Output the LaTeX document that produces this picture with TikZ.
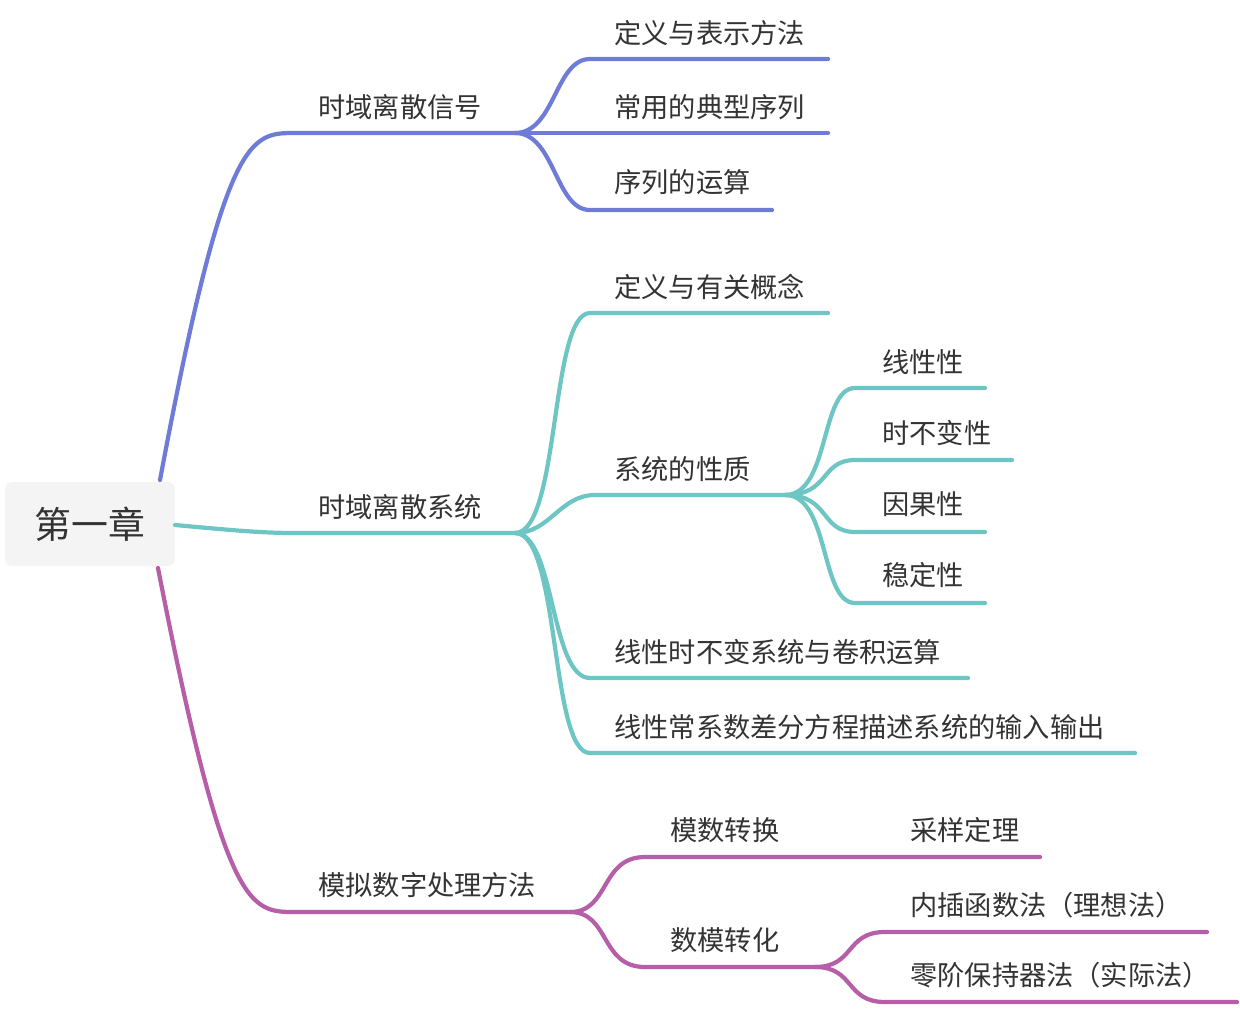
\documentclass[tikz,border=0pt]{standalone}
\usepackage{fontspec}
\setmainfont{Noto Sans CJK SC}
\usetikzlibrary{positioning}
\definecolor{bluebr}{HTML}{6E7CD8}
\definecolor{tealbr}{HTML}{6EC6C4}
\definecolor{purpbr}{HTML}{B65FA8}
\definecolor{txt}{HTML}{333333}
\definecolor{rootbg}{HTML}{F4F4F4}
\tikzset{
  lbl/.style={anchor=west,inner sep=0pt,text=txt,font=\fontsize{15.5}{18}\selectfont},
  br/.style={line width=2.4pt,line cap=round},
}
\begin{document}
\begin{tikzpicture}[x=0.02cm,y=-0.02cm]
\useasboundingbox (0,0) rectangle (1240,1008);
% root
\node[fill=rootbg,rounded corners=4pt,minimum width=170*0.02cm,minimum height=84*0.02cm,text=txt,font=\fontsize{21}{24}\selectfont] (root) at (90,524) {第一章};

% branch points
\coordinate (s1) at (160,480);
\coordinate (s2) at (175,525);
\coordinate (s3) at (158,568);
\coordinate (b1) at (515,133);
\coordinate (b2) at (515,533);
\coordinate (b3) at (570,912);
\coordinate (b4) at (785,495);
\coordinate (b5) at (815,967);

% blue
\draw[br,bluebr] (s1) .. controls (225,133) and (250,133) .. (295,133) -- (b1);
\node[lbl] (sig) at (318,107) {时域离散信号};
\draw[br,bluebr] (b1) .. controls (555,133) and (555,59) .. (590,59) -- (828,59);
\draw[br,bluebr] (b1) -- (828,133);
\draw[br,bluebr] (b1) .. controls (555,133) and (555,210) .. (590,210) -- (772,210);
\node[lbl] (def1) at (614,33) {定义与表示方法};
\node[lbl] (seq) at (614,107) {常用的典型序列};
\node[lbl] (ops) at (614,182) {序列的运算};

% teal
\draw[br,tealbr] (s2) .. controls (230,530) and (260,533) .. (295,533) -- (b2);
\node[lbl] (sys) at (318,507) {时域离散系统};
\draw[br,tealbr] (b2) .. controls (560,533) and (550,313) .. (590,313) -- (828,313);
\draw[br,tealbr] (b2) .. controls (550,533) and (560,495) .. (595,495) -- (b4);
\draw[br,tealbr] (b2) .. controls (555,533) and (550,678) .. (590,678) -- (968,678);
\draw[br,tealbr] (b2) .. controls (560,533) and (550,753) .. (590,753) -- (1135,753);
\node[lbl] (def2) at (614,287) {定义与有关概念};
\node[lbl] (prop) at (614,469) {系统的性质};
\node[lbl] (lti) at (614,652) {线性时不变系统与卷积运算};
\node[lbl] (diff) at (614,727) {线性常系数差分方程描述系统的输入输出};
\draw[br,tealbr] (b4) .. controls (830,495) and (820,388) .. (855,388) -- (985,388);
\draw[br,tealbr] (b4) .. controls (830,495) and (820,460) .. (855,460) -- (1012,460);
\draw[br,tealbr] (b4) .. controls (830,495) and (820,532) .. (855,532) -- (985,532);
\draw[br,tealbr] (b4) .. controls (830,495) and (820,603) .. (855,603) -- (985,603);
\node[lbl] (lin) at (882,362) {线性性};
\node[lbl] (tiv) at (882,433) {时不变性};
\node[lbl] (caus) at (882,504) {因果性};
\node[lbl] (stab) at (882,575) {稳定性};

% purple
\draw[br,purpbr] (s3) .. controls (225,912) and (250,912) .. (295,912) -- (b3);
\node[lbl] (ana) at (318,885) {模拟数字处理方法};
\draw[br,purpbr] (b3) .. controls (610,912) and (600,857) .. (645,857) -- (1040,857);
\draw[br,purpbr] (b3) .. controls (610,912) and (600,967) .. (645,967) -- (b5);
\node[lbl] (adc) at (670,830) {模数转换};
\node[lbl] (samp) at (910,830) {采样定理};
\node[lbl] (dac) at (670,940) {数模转化};
\draw[br,purpbr] (b5) .. controls (855,967) and (845,932) .. (885,932) -- (1207,932);
\draw[br,purpbr] (b5) .. controls (855,967) and (845,1002) .. (885,1002) -- (1237,1002);
\node[lbl] (interp) at (910,905) {内插函数法（理想法）};
\node[lbl] (zoh) at (910,975) {零阶保持器法（实际法）};
\end{tikzpicture}
\end{document}
